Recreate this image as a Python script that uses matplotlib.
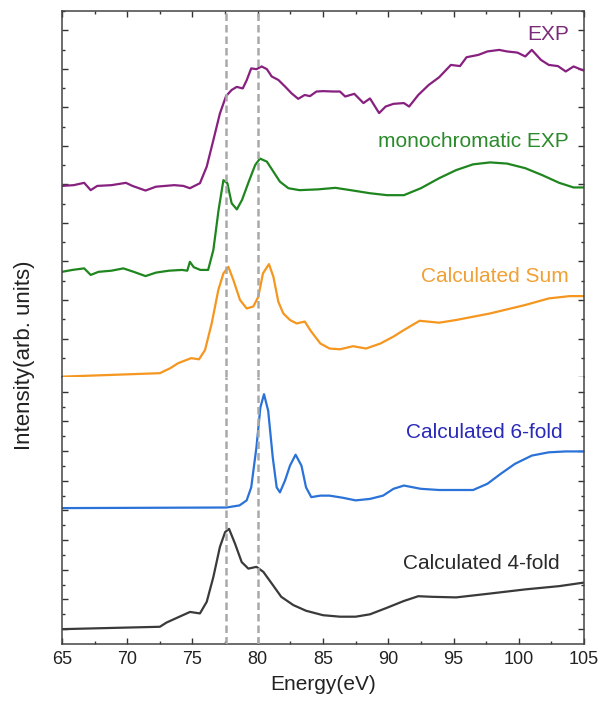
import numpy as np
import matplotlib.pyplot as plt
from matplotlib.ticker import FixedLocator, MultipleLocator

plt.rcParams['font.family'] = ['Liberation Sans', 'DejaVu Sans']

# ---- data (energy in eV, intensity in stacked-panel units) ----
exp_x = [65.0, 65.9, 66.7, 67.2, 67.7, 68.8, 69.9, 70.4, 71.4, 72.2, 73.6, 74.3, 74.8, 75.57,
         76.09, 76.6, 77.1, 77.57, 78.0, 78.39, 78.85, 79.15, 79.5, 79.9, 80.3, 80.7, 81.07,
         81.58, 82.09, 82.6, 83.1, 83.6, 84.0, 84.5, 85.0, 85.8, 86.3, 86.7, 87.4, 88.1, 88.6,
         89.3, 89.8, 90.4, 91.2, 91.6, 92.3, 93.1, 93.9, 94.8, 95.5, 96.0, 96.9, 97.6, 98.5,
         99.1, 99.9, 100.5, 101.0, 101.7, 102.3, 103.0, 103.6, 104.2, 105.0]
exp_y = [4.96, 4.98, 5.04, 4.85, 4.96, 4.98, 5.04, 4.96, 4.84, 4.94, 4.98, 4.96, 4.90, 5.03,
         5.46, 6.15, 6.84, 7.29, 7.45, 7.53, 7.49, 7.70, 8.01, 7.99, 8.06, 7.99, 7.80,
         7.71, 7.54, 7.36, 7.22, 7.32, 7.29, 7.41, 7.42, 7.41, 7.41, 7.28, 7.35, 7.11, 7.23,
         6.85, 7.02, 7.09, 7.11, 7.02, 7.32, 7.58, 7.78, 8.10, 8.07, 8.30, 8.36, 8.45, 8.49,
         8.45, 8.42, 8.32, 8.49, 8.23, 8.10, 8.07, 7.93, 8.06, 7.95]

mono_x = [65.0, 65.8, 66.7, 67.2, 67.8, 68.8, 69.7, 70.5, 71.4, 72.2, 73.2, 74.2, 74.6, 74.8,
          75.1, 75.6, 76.2, 76.6, 77.0, 77.37, 77.67, 78.0, 78.4, 78.8, 79.3, 79.8, 80.17,
          80.7, 81.2, 81.7, 82.35, 83.2, 84.6, 85.95, 87.3, 88.6, 89.9, 91.2, 92.5, 93.9,
          95.2, 96.5, 97.8, 99.1, 100.5, 101.8, 103.1, 104.2, 105.0]
mono_y = [2.73, 2.78, 2.82, 2.65, 2.73, 2.76, 2.82, 2.73, 2.62, 2.71, 2.76, 2.78, 2.76, 2.99,
          2.85, 2.78, 2.78, 3.30, 4.34, 5.11, 5.03, 4.51, 4.35, 4.60, 5.06, 5.50, 5.67,
          5.59, 5.33, 5.07, 4.90, 4.85, 4.87, 4.91, 4.84, 4.77, 4.72, 4.72, 4.90, 5.16,
          5.37, 5.52, 5.57, 5.54, 5.42, 5.24, 5.04, 4.92, 4.92]

sum_x = [65.0, 72.5, 73.3, 73.9, 74.9, 75.5, 75.96, 76.47, 76.98, 77.37, 77.75, 78.13, 78.64,
         79.15, 79.66, 80.04, 80.4, 80.86, 81.2, 81.58, 81.96, 82.47, 82.98, 83.6, 84.1, 84.8,
         85.5, 86.3, 87.3, 88.3, 89.4, 90.4, 91.2, 92.4, 93.9, 95.2, 97.8, 100.5, 102.3,
         103.9, 105.0]
sum_y = [0.01, 0.10, 0.23, 0.36, 0.49, 0.46, 0.70, 1.39, 2.26, 2.69, 2.86, 2.52, 2.00,
         1.78, 1.83, 2.08, 2.69, 2.93, 2.60, 1.95, 1.65, 1.48, 1.39, 1.44, 1.18, 0.87,
         0.74, 0.72, 0.80, 0.74, 0.87, 1.05, 1.22, 1.46, 1.41, 1.48, 1.65, 1.87, 2.04,
         2.10, 2.10]

six_x = [65.0, 77.6, 78.6, 79.15, 79.5, 79.9, 80.2, 80.48, 80.8, 81.15, 81.45, 81.7, 82.09,
         82.47, 82.9, 83.35, 83.7, 84.1, 84.8, 85.5, 86.5, 87.5, 88.6, 89.6, 90.4, 91.2, 92.5,
         93.9, 96.5, 97.6, 98.6, 99.7, 101.0, 102.3, 103.6, 105.0]
six_y = [4.58, 4.60, 4.67, 4.84, 5.28, 6.63, 7.97, 8.42, 7.86, 6.29, 5.28, 5.11, 5.51,
         6.01, 6.38, 6.01, 5.28, 4.95, 5.00, 5.00, 4.93, 4.84, 4.89, 5.00, 5.23, 5.34, 5.23,
         5.19, 5.19, 5.40, 5.73, 6.07, 6.35, 6.46, 6.49, 6.49]

four_x = [65.0, 72.5, 73.0, 73.7, 74.81, 75.57, 76.09, 76.6, 77.1, 77.5, 77.8, 78.26, 78.77,
          79.28, 79.9, 80.43, 81.07, 81.8, 82.73, 83.7, 85.0, 86.3, 87.5, 88.6, 89.9, 91.2,
          92.3, 93.35, 95.2, 97.8, 100.5, 103.1, 105.0]
four_y = [0.50, 0.58, 0.72, 0.86, 1.08, 1.03, 1.42, 2.26, 3.27, 3.77, 3.88, 3.38, 2.76,
          2.54, 2.60, 2.43, 2.04, 1.59, 1.31, 1.12, 0.97, 0.92, 0.92, 1.00, 1.22, 1.45,
          1.61, 1.59, 1.57, 1.70, 1.84, 1.95, 2.07]

edge_lines = [77.6, 80.0]

# ---- figure: two stacked panels sharing the energy axis (Origin style) ----
fig = plt.figure(figsize=(6.03, 7.13), dpi=100)
ax_top = fig.add_axes([0.1028, 0.4712, 0.8657, 0.5134])
ax_bot = fig.add_axes([0.1028, 0.0968, 0.8657, 0.3745])

lkw = dict(lw=1.6, solid_joinstyle='round', solid_capstyle='round')
ax_top.plot(exp_x, exp_y, color='#87207f', **lkw)
ax_top.plot(mono_x, mono_y, color='#1f861f', **lkw)
ax_top.plot(sum_x, sum_y, color='#f5961e', **lkw)
ax_bot.plot(six_x, six_y, color='#2a72d8', **lkw)
ax_bot.plot(four_x, four_y, color='#3a3a3a', **lkw)

for ax in (ax_top, ax_bot):
    for e in edge_lines:
        ax.axvline(e, color='#a9a9a9', lw=1.8, ls=(0, (3, 1.6)), zorder=3)
    ax.set_xlim(65, 105)
    ax.xaxis.set_major_locator(MultipleLocator(5))
    ax.xaxis.set_minor_locator(MultipleLocator(2.5))
    ax.tick_params(which='both', direction='in', right=True, colors='#333333', width=1.0)
    ax.tick_params(which='major', length=4)
    ax.tick_params(which='minor', length=2.5)
    for s in ax.spines.values():
        s.set_color('#444444')
        s.set_linewidth(1.1)

ax_top.set_ylim(0, 9.5)
ax_top.yaxis.set_major_locator(FixedLocator(np.arange(0, 9.5, 1.0)))
ax_top.yaxis.set_minor_locator(FixedLocator(np.arange(0.5, 9.6, 1.0)))
ax_top.tick_params(axis='x', which='both', top=True, bottom=False, labelbottom=False)
ax_top.spines['bottom'].set_visible(False)
ax_top.set_yticklabels([])

ax_bot.set_ylim(0, 9)
ax_bot.yaxis.set_major_locator(FixedLocator(np.arange(0.5, 9, 1.0)))
ax_bot.yaxis.set_minor_locator(FixedLocator(np.arange(1, 9, 1.0)))
ax_bot.tick_params(axis='x', which='both', top=False, bottom=True)
ax_bot.spines['top'].set_visible(False)
ax_bot.set_yticklabels([])
ax_bot.tick_params(axis='x', labelsize=13, pad=5, labelcolor='#222222')

ax_bot.set_xlabel('Energy(eV)', fontsize=15, color='#222222', labelpad=5)
fig.text(25 / 603, 1 - 355 / 713, 'Intensity(arb. units)', rotation=90,
         ha='center', va='center', fontsize=16, color='#222222')

tkw = dict(ha='right', va='center', fontsize=15)
ax_top.text(103.85, 8.90, 'EXP', color='#7a2a78', **tkw)
ax_top.text(103.85, 6.10, 'monochromatic EXP', color='#2b8a2b', **tkw)
ax_top.text(103.8, 2.60, 'Calculated Sum', color='#f0a035', **tkw)
ax_bot.text(103.4, 7.12, 'Calculated 6-fold', color='#2a2ab8', **tkw)
ax_bot.text(103.1, 2.72, 'Calculated 4-fold', color='#2a2a2a', **tkw)

fig.savefig('out.png', dpi=100)
